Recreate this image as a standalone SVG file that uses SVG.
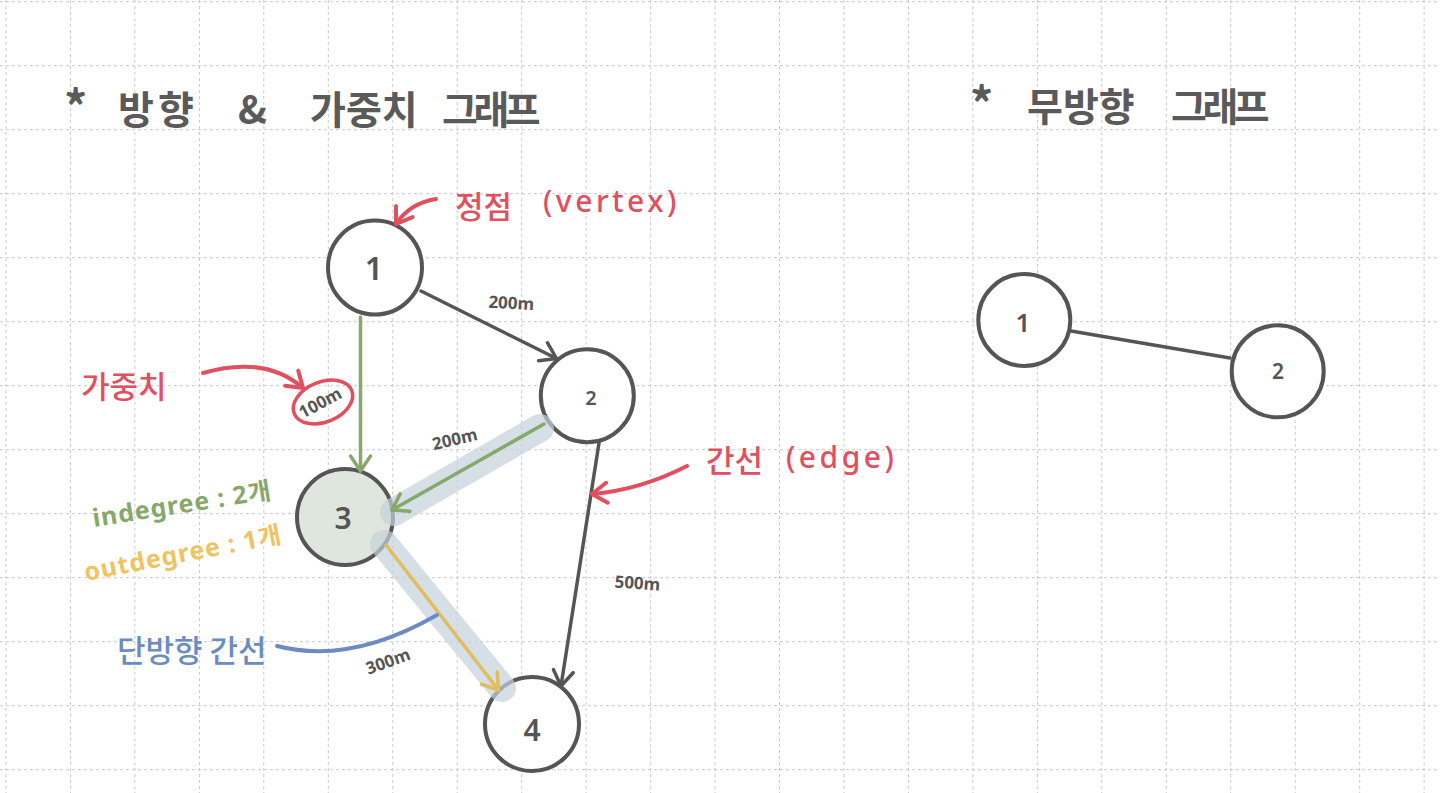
<svg xmlns="http://www.w3.org/2000/svg" width="1440" height="793" viewBox="0 0 1440 793">
<style>
.grid{stroke:#c9c9c9;stroke-width:1;stroke-dasharray:3 3;fill:none}
.node{fill:#ffffff;stroke:#555555;stroke-width:4}
.lbl{font-family:"Noto Sans","Noto Sans CJK KR",sans-serif;font-weight:600;fill:#555555;text-anchor:middle}
.title{font-family:"Noto Sans CJK KR","Noto Sans",sans-serif;font-size:39px;font-weight:700;fill:#5a5a5a}
.w{font-family:"Noto Sans","Noto Sans CJK KR",sans-serif;font-weight:700;font-size:17px;fill:#555555;text-anchor:middle}
.red{font-family:"Noto Sans CJK KR","Noto Sans",sans-serif;font-weight:500;fill:#e0505e}
.lat{font-family:"Noto Sans",sans-serif;font-size:30px;letter-spacing:3.5px}
.deg{font-family:"Noto Sans","Noto Sans CJK KR",sans-serif;font-weight:700;font-size:25px;letter-spacing:1px}
.e{fill:none;stroke-width:3.5;stroke-linecap:round}
.band{fill:none;stroke:#c5d1da;stroke-width:28;stroke-linecap:round;opacity:0.7}
.ann{fill:none;stroke-width:4;stroke-linecap:round}
</style>
<defs>
<marker id="ag" markerUnits="userSpaceOnUse" viewBox="-18 -12 20 24" markerWidth="20" markerHeight="24" refX="0" refY="0" orient="auto"><path d="M-15,-10 L0,0 L-15,10" fill="none" stroke="#555555" stroke-width="3.5" stroke-linecap="round" stroke-linejoin="round"/></marker>
<marker id="agr" markerUnits="userSpaceOnUse" viewBox="-18 -12 20 24" markerWidth="20" markerHeight="24" refX="0" refY="0" orient="auto"><path d="M-15,-10 L0,0 L-15,10" fill="none" stroke="#87a86a" stroke-width="3.5" stroke-linecap="round" stroke-linejoin="round"/></marker>
<marker id="ay" markerUnits="userSpaceOnUse" viewBox="-18 -12 20 24" markerWidth="20" markerHeight="24" refX="0" refY="0" orient="auto"><path d="M-15,-10 L0,0 L-15,10" fill="none" stroke="#e2bd5e" stroke-width="3.5" stroke-linecap="round" stroke-linejoin="round"/></marker>
<marker id="ar" markerUnits="userSpaceOnUse" viewBox="-18 -12 20 24" markerWidth="20" markerHeight="24" refX="0" refY="0" orient="auto"><path d="M-15,-10 L0,0 L-15,10" fill="none" stroke="#e0505e" stroke-width="4" stroke-linecap="round" stroke-linejoin="round"/></marker>
</defs>
<rect width="1440" height="793" fill="#ffffff"/>
<g id="grid" class="grid">
<path d="M6,0V793M70.5,0V793M134.9,0V793M199.4,0V793M263.8,0V793M328.3,0V793M392.8,0V793M457.2,0V793M521.7,0V793M586.1,0V793M650.6,0V793M715.1,0V793M779.5,0V793M844,0V793M908.4,0V793M972.9,0V793M1037.4,0V793M1101.8,0V793M1166.3,0V793M1230.7,0V793M1295.2,0V793M1359.7,0V793M1424.1,0V793"/>
<path d="M0,1.7H1440M0,65.7H1440M0,129.7H1440M0,193.7H1440M0,257.7H1440M0,321.7H1440M0,385.7H1440M0,449.7H1440M0,513.7H1440M0,577.7H1440M0,641.7H1440M0,705.7H1440M0,769.7H1440"/>
</g>
<g id="titles">
<text class="title"><tspan x="64" y="124" font-size="46">*</tspan><tspan x="118" y="124" letter-spacing="4">방향</tspan><tspan x="238" y="124">&amp;</tspan><tspan x="310" y="124">가중치</tspan><tspan x="442" y="124" letter-spacing="-4.5">그래프</tspan></text>
<text class="title"><tspan x="970" y="121" font-size="46">*</tspan><tspan x="1027" y="121">무방향</tspan><tspan x="1171" y="121" letter-spacing="-4.5">그래프</tspan></text>
</g>
<g id="node-1"><circle class="node" cx="375" cy="267.5" r="47"/><text class="lbl" x="374" y="280" font-size="32">1</text></g>
<g id="node-2"><circle class="node" cx="587.3" cy="395.8" r="46.5"/><text class="lbl" x="591" y="405" font-size="20">2</text></g>
<g id="node-3"><circle class="node" cx="345" cy="517" r="48" style="fill:#dfe6dd"/><text class="lbl" x="343" y="529" font-size="30">3</text></g>
<g id="node-4"><circle class="node" cx="532" cy="724" r="47"/><text class="lbl" x="532" y="741" font-size="30">4</text></g>
<g id="u-node-1"><circle class="node" cx="1024.3" cy="320" r="46"/><text class="lbl" x="1023" y="332" font-size="26">1</text></g>
<g id="u-node-2"><circle class="node" cx="1277.7" cy="371.3" r="46"/><text class="lbl" x="1278" y="379" font-size="21">2</text></g>
<g id="connectors">
<path class="band" d="M540,428 L394,512"/>
<path class="band" d="M384,544 L502,688"/>
<path class="e" stroke="#555555" d="M421,291 L556.5,358.5" marker-end="url(#ag)"/>
<path class="e" stroke="#87a86a" d="M360.5,317 L360.5,471" marker-end="url(#agr)"/>
<path class="e" stroke="#87a86a" d="M544,424 L392,510" marker-end="url(#agr)"/>
<path class="e" stroke="#e2bd5e" d="M386,545 L498.5,690" marker-end="url(#ay)"/>
<path class="e" stroke="#555555" d="M599,443 L561,686" marker-end="url(#ag)"/>
<path class="e" stroke="#555555" d="M1071,331 L1230,358"/>
</g>
<g id="edge-labels">
<text class="w" transform="translate(511,309) rotate(3)">200m</text>
<text class="w" transform="translate(456,445) rotate(-13)" font-size="15">200m</text>
<text class="w" transform="translate(637,589) rotate(4)">500m</text>
<text class="w" transform="translate(390,667) rotate(-20)" font-size="15">300m</text>
<text class="w" transform="translate(323,408) rotate(-28)" font-size="15">100m</text>
</g>
<g id="annotations">
<text class="red" font-size="31"><tspan x="455" y="218">정점</tspan><tspan class="lat" x="543" y="212">(vertex)</tspan></text>
<path class="ann" stroke="#e0505e" d="M436,199 Q410,203 396,224" marker-end="url(#ar)"/>
<text class="red" font-size="31" x="81" y="398">가중치</text>
<path class="ann" stroke="#e0505e" d="M203,373 Q265,355 303,388" marker-end="url(#ar)"/>
<ellipse cx="323" cy="402" rx="31" ry="20" transform="rotate(-22 323 402)" fill="none" stroke="#e0505e" stroke-width="3.5"/>
<text class="red" font-size="31"><tspan x="706" y="472">간선</tspan><tspan class="lat" x="786" y="468">(edge)</tspan></text>
<path class="ann" stroke="#e0505e" d="M687,466 Q640,490 592,494" marker-end="url(#ar)"/>
<text class="deg" fill="#87a86a" transform="translate(94,527) rotate(-9)">indegree : 2개</text>
<text class="deg" fill="#efc35e" transform="translate(86,581) rotate(-11)">outdegree : 1개</text>
<text font-family="Noto Sans CJK KR, sans-serif" font-weight="500" font-size="31" fill="#6b8cc2" x="117" y="662">단방향 간선</text>
<path class="ann" stroke="#6b8cc2" d="M277,646 Q350,665 437,615"/>
</g>
</svg>
